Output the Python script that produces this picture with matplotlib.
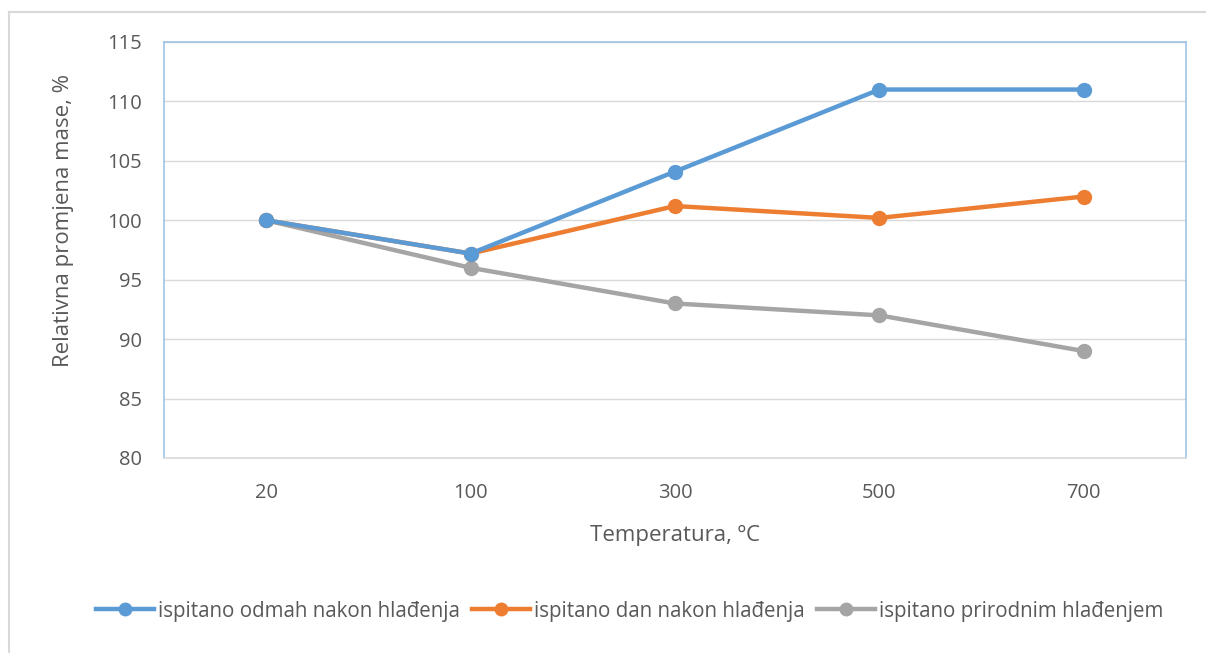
import matplotlib.pyplot as plt
from matplotlib.lines import Line2D

temperatures = ["20", "100", "300", "500", "700"]
odmah = [100, 97.2, 104.1, 111, 111]
dan_nakon = [100, 97.2, 101.2, 100.2, 102]
prirodno = [100, 96, 93, 92, 89]

labels = ["ispitano odmah nakon hlađenja",
          "ispitano dan nakon hlađenja",
          "ispitano prirodnim hlađenjem"]
colors = ["#5B9BD5", "#ED7D31", "#A5A5A5"]

plt.rcParams['font.family'] = ['Open Sans', 'DejaVu Sans']
text_col = "#595959"

fig = plt.figure(figsize=(12.11, 6.53), dpi=100)
ax = fig.add_axes([164 / 1211, 1 - 458 / 653, 1022 / 1211, 416 / 653])

x = list(range(len(temperatures)))
# draw grey first so the others sit on top
for series, c, lab in zip([prirodno, dan_nakon, odmah], colors[::-1], labels[::-1]):
    ax.plot(x, series, color=c, lw=3.2, marker='o', ms=10, label=lab,
            solid_capstyle='round')

ax.set_xlim(-0.5, 4.5)
ax.set_ylim(80, 115)
ax.set_yticks(range(80, 116, 5))
ax.set_xticks(x)
ax.set_xticklabels(temperatures)
ax.yaxis.grid(True, color="#D9D9D9", lw=1)
ax.set_axisbelow(True)
ax.tick_params(length=0, labelsize=14.5, colors=text_col)
ax.tick_params(axis='y', pad=16)
ax.tick_params(axis='x', pad=18)

for side in ['left', 'top', 'right']:
    ax.spines[side].set_color("#9DC3E6")
    ax.spines[side].set_linewidth(1.2)
ax.spines['bottom'].set_color("#D9D9D9")
ax.spines['bottom'].set_linewidth(1.2)

ax.set_xlabel("Temperatura, ºC", fontsize=16, color=text_col)
ax.set_ylabel("Relativna promjena mase, %", fontsize=16, color=text_col)
ax.xaxis.set_label_coords(0.5, -0.162)
ax.yaxis.set_label_coords(-0.088, 0.572)

handles = [Line2D([0], [0], color=c, lw=3.2, marker='o', ms=9) for c in colors]
fig.legend(handles, labels, loc='center', bbox_to_anchor=(0.52, 1 - 611 / 653),
           ncol=3, frameon=False, fontsize=14.8, labelcolor=text_col,
           handlelength=2.8, handletextpad=0.2, columnspacing=0.6)

# outer chart border
fig.add_artist(Line2D([9 / 1211, 9 / 1211], [0, 1 - 12 / 653], color="#D9D9D9", lw=1.5))
fig.add_artist(Line2D([9 / 1211, 1205 / 1211], [1 - 12 / 653, 1 - 12 / 653], color="#D9D9D9", lw=1.5))

fig.savefig("out.png", dpi=100)
